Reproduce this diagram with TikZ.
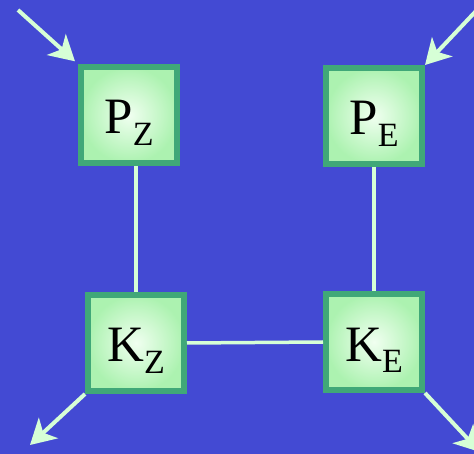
\documentclass[tikz,border=0pt]{standalone}
\usepackage{fontspec}
\setmainfont{Liberation Serif}
\usetikzlibrary{arrows.meta}
\definecolor{bgblue}{RGB}{67,74,211}
\definecolor{boxedge}{RGB}{64,168,120}
\definecolor{boxin}{RGB}{240,255,240}
\definecolor{boxout}{RGB}{172,242,176}
\definecolor{linkcol}{RGB}{214,255,214}
\newcommand{\lbl}[2]{{\fontsize{51}{51}\selectfont #1\raisebox{-12pt}{\fontsize{34}{34}\selectfont #2}}}
\tikzset{
  statebox/.style={draw=boxedge, line width=6pt, inner color=boxin, outer color=boxout,
    minimum size=96pt, inner sep=0pt, text height=38pt, text depth=0pt, align=center},
  link/.style={draw=linkcol, line width=3.5pt},
  flow/.style={draw=linkcol, line width=4pt, -{Stealth[length=25pt, width=28pt, inset=7pt]}}
}
\begin{document}
\begin{tikzpicture}[x=1pt, y=-1pt]
\fill[bgblue] (0,0) rectangle (474,454);
\useasboundingbox (0,0) rectangle (474,454);
\node[statebox] (Pz) at (129,115) {\lbl{P}{Z}};
\node[statebox] (Pe) at (374,116) {\lbl{P}{E}};
\node[statebox] (Kz) at (136,343) {\lbl{K}{Z}};
\node[statebox] (Ke) at (374,342) {\lbl{K}{E}};
\coordinate (inZ) at (18,10);
\coordinate (inE) at (476,11);
\coordinate (outZ) at (30,445);
\coordinate (outE) at (480,452);
\draw[link] (Kz.north) -- (Kz.north |- Pz.south);
\draw[link] (Ke.north) -- (Ke.north |- Pe.south);
\draw[link] (Kz.east) -- (Ke.west);
\draw[flow, shorten >=4pt] (inZ) -- (Pz.north west);
\draw[flow] (inE) -- (Pe.north east);
\draw[flow] (Kz.south west) -- (outZ);
\draw[flow] (Ke.south east) -- (outE);
\end{tikzpicture}
\end{document}
